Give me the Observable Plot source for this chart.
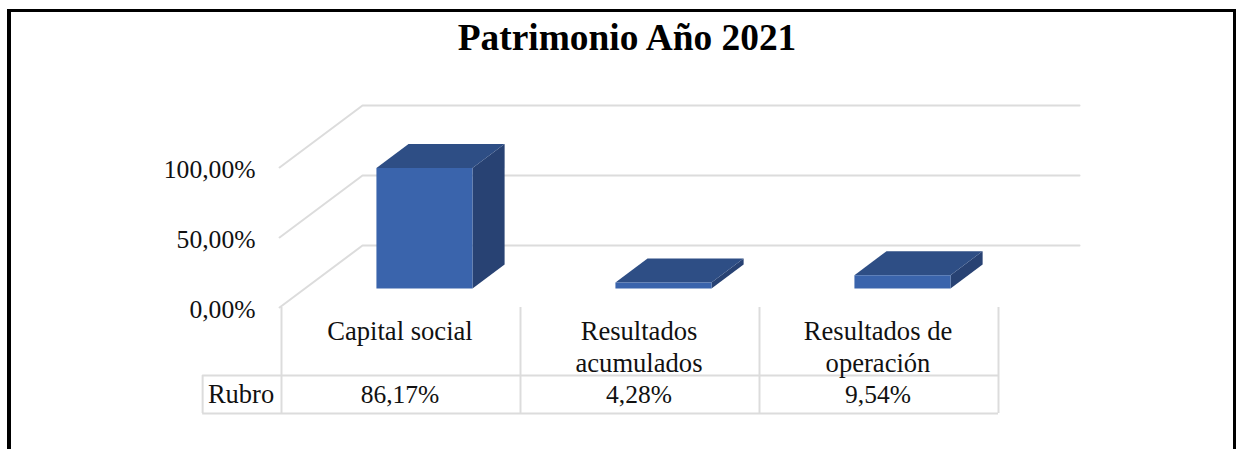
<!DOCTYPE html>
<html lang="es">
<head>
<meta charset="utf-8">
<script src="https://cdn.jsdelivr.net/npm/d3@7"></script>
<script src="https://cdn.jsdelivr.net/npm/@observablehq/plot@0.6"></script>
<style>
  html, body { margin: 0; padding: 0; background: #fff; }
  #chart { position: relative; width: 1236px; height: 449px; overflow: hidden; font-family: "Liberation Serif", serif; }
  #chart svg { position: absolute; left: 0; top: 0; background: transparent; }
  #frame { position: absolute; left: 7px; top: 9px; right: 0; bottom: 0; border: solid #000; border-width: 3px 3px 0 4px; }
  h1 { position: absolute; left: 0; width: 1254px; top: 16px; margin: 0; text-align: center; font-size: 37.4px; line-height: 44px; font-weight: bold; color: #000; }
</style>
</head>
<body>
<div id="chart">
  <div id="frame"></div>
  <h1>Patrimonio Año 2021</h1>
</div>
<script>
const categories = ["Capital social", "Resultados\nacumulados", "Resultados de\noperación"];
const values = [86.17, 4.28, 9.54];
const yTicks = [0, 50, 100];
const rowLabel = "Rubro";

// oblique projection of the 3D floor: depth runs from 0 (front) to 1 (back wall)
const depthX = 0.347, depthY = 44.3, floorShift = -0.008;
const barFront = 0.306, barBack = 0.693, barWidth = 0.402;
const tableTop = -48.6, tableBottom = -75.7, rowLabelLeft = -0.33;

const project = (cat, value, depth) => ({x: cat + floorShift + depth * depthX, y: value + depth * depthY});
const fmt = (v) => v.toFixed(2).replace(".", ",") + "%";

const gridPts = yTicks.flatMap((v) => [
  {id: v, ...project(0, v, 0)},
  {id: v, ...project(0, v, 1)},
  {id: v, ...project(categories.length, v, 1)}
]);

const faces = values.flatMap((v, i) => {
  const l = i + 0.5 - barWidth / 2, r = i + 0.5 + barWidth / 2;
  const poly = (name, color, pts) => pts.map((p) => ({id: i + name, color, ...project(...p)}));
  return [
    ...poly("side", "#284273", [[r, 0, barFront], [r, 0, barBack], [r, v, barBack], [r, v, barFront]]),
    ...poly("top", "#2e4e85", [[l, v, barFront], [r, v, barFront], [r, v, barBack], [l, v, barBack]]),
    ...poly("front", "#3a64ac", [[l, 0, barFront], [r, 0, barFront], [r, v, barFront], [l, v, barFront]])
  ];
});

const lineColor = "#dcdcdc";
const fontFamily = "Liberation Serif";
const fill = "#111";
const cols = d3.range(categories.length + 1);

const plot = Plot.plot({
  width: 1236, height: 449,
  marginLeft: 281, marginRight: 238, marginTop: 167, marginBottom: 142,
  x: {domain: [0, categories.length], axis: null},
  y: {domain: [0, 100], label: null},
  color: {type: "identity"},
  style: {background: "transparent"},
  marks: [
    Plot.line(gridPts, {x: "x", y: "y", z: "id", stroke: lineColor, strokeWidth: 2}),
    Plot.line(faces, {x: "x", y: "y", z: "id", fill: "color", stroke: "none"}),
    Plot.ruleX(cols, {y1: 0, y2: tableBottom, stroke: lineColor, strokeWidth: 2}),
    Plot.ruleX([rowLabelLeft], {y1: tableTop, y2: tableBottom, stroke: lineColor, strokeWidth: 2}),
    Plot.ruleY([tableTop, tableBottom], {x1: rowLabelLeft, x2: categories.length, stroke: lineColor, strokeWidth: 2}),
    Plot.axisY(yTicks, {anchor: "left", label: null, tickSize: 0, tickPadding: 26, tickFormat: fmt, dy: 2, fontFamily, fontSize: 25.6, fill}),
    Plot.text(categories, {x: (d, i) => i + 0.5, y: -7, dx: -1, lineAnchor: "top", lineHeight: 1.2, fontFamily, fontSize: 26.6, fill}),
    Plot.text(values, {x: (d, i) => i + 0.5, y: (tableTop + tableBottom) / 2, dx: -1, text: fmt, fontFamily, fontSize: 25.5, fill}),
    Plot.text([rowLabel], {x: rowLabelLeft / 2, y: (tableTop + tableBottom) / 2, dx: -1, fontFamily, fontSize: 26.5, fill})
  ]
});
document.getElementById("chart").appendChild(plot);
</script>
</body>
</html>
